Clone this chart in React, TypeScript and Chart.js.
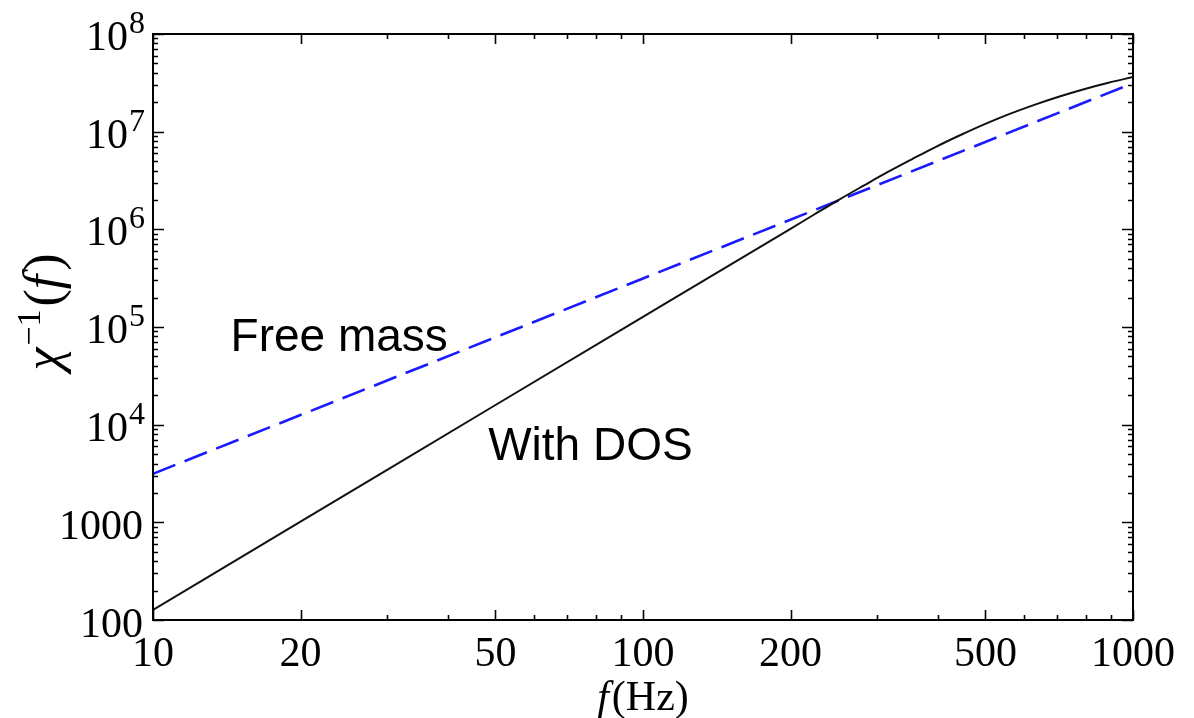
import React, { useEffect, useRef } from 'react';
import { Chart, registerables } from 'chart.js';

Chart.register(...registerables);

// ---- data ----
const frequencies = [10, 20, 50, 100, 150, 200, 224, 251, 282, 316, 355, 398, 447, 501, 562, 631, 708, 794, 891, 1000];
const withDosValues = [127, 1016, 15900, 127000, 428000, 1.012e6, 1.427e6, 2.006e6, 2.802e6, 3.868e6, 5.27e6, 7.08e6, 9.35e6, 1.209e7, 1.531e7, 1.894e7, 2.294e7, 2.723e7, 3.172e7, 3.63e7];
const freeMassFrequencies = [10, 100, 1000];
const freeMassValues = [3140, 314000, 31400000];

const xTickValues = [10, 20, 50, 100, 200, 500, 1000];
const xTickLabels = ['10', '20', '50', '100', '200', '500', '1000'];
const xMinorTickValues = [30, 40, 60, 70, 80, 90, 300, 400, 600, 700, 800, 900];

const yTickValues = [100, 1000, 1e4, 1e5, 1e6, 1e7, 1e8];
const yTickBases = ['100', '1000', '10', '10', '10', '10', '10'];
const yTickExponents = ['', '', '4', '5', '6', '7', '8'];
const yMinorMultipliers = [2, 3, 4, 5, 6, 7, 8, 9];

const annotationTexts = ['Free mass', 'With DOS'];
const annotationFreqs = [14.4, 48.3];
const annotationValues = [57000, 4340];

const SERIF = '"Liberation Serif", "Times New Roman", serif';
const SANS = '"Liberation Sans", Arial, sans-serif';

const framePlugin = {
  id: 'framePlugin',
  afterDraw(chart: any) {
    const { ctx, chartArea: a, scales } = chart;
    const x = scales.x;
    const y = scales.y;
    ctx.save();

    // ticks (inward, mirrored on all sides)
    ctx.strokeStyle = '#000';
    ctx.lineWidth = 1.6;
    ctx.beginPath();
    const vTick = (v: number, len: number) => {
      const px = Math.round(x.getPixelForValue(v)) + 0.5;
      ctx.moveTo(px, a.bottom);
      ctx.lineTo(px, a.bottom - len);
      ctx.moveTo(px, a.top);
      ctx.lineTo(px, a.top + len);
    };
    const hTick = (v: number, len: number) => {
      const py = Math.round(y.getPixelForValue(v)) + 0.5;
      ctx.moveTo(a.left, py);
      ctx.lineTo(a.left + len, py);
      ctx.moveTo(a.right, py);
      ctx.lineTo(a.right - len, py);
    };
    xTickValues.forEach((v) => vTick(v, 10));
    xMinorTickValues.forEach((v) => vTick(v, 5));
    yTickValues.forEach((v) => hTick(v, 11));
    yTickValues.forEach((d, i) => {
      if (i < yTickValues.length - 1) yMinorMultipliers.forEach((m) => hTick(d * m, 5));
    });
    ctx.stroke();

    // frame
    ctx.lineWidth = 2;
    ctx.strokeRect(a.left, a.top, a.right - a.left, a.bottom - a.top);

    // y tick labels with superscripts
    ctx.fillStyle = '#000';
    ctx.textBaseline = 'alphabetic';
    ctx.textAlign = 'right';
    yTickValues.forEach((v, i) => {
      const py = y.getPixelForValue(v);
      const exp = yTickExponents[i];
      if (exp) {
        ctx.font = `32px ${SERIF}`;
        const ew = ctx.measureText(exp).width;
        ctx.fillText(exp, a.left - 8, py - 1);
        ctx.font = `42px ${SERIF}`;
        ctx.fillText(yTickBases[i], a.left - 8 - ew - 1, py + 16);
      } else {
        ctx.font = `42px ${SERIF}`;
        ctx.fillText(yTickBases[i], a.left - 10, py + 17);
      }
    });

    // annotations
    ctx.textAlign = 'left';
    ctx.font = `46px ${SANS}`;
    annotationTexts.forEach((t, i) => {
      ctx.fillText(t, x.getPixelForValue(annotationFreqs[i]), y.getPixelForValue(annotationValues[i]));
    });

    // x axis title: f(Hz)
    ctx.font = `italic 42px ${SERIF}`;
    const fW = ctx.measureText('f').width;
    ctx.font = `42px ${SERIF}`;
    const restW = ctx.measureText('(Hz)').width;
    const cx = (a.left + a.right) / 2;
    const startX = cx - (fW + 3 + restW) / 2;
    ctx.font = `italic 42px ${SERIF}`;
    ctx.fillText('f', startX, 710);
    ctx.font = `42px ${SERIF}`;
    ctx.fillText('(Hz)', startX + fW + 3, 710);

    // y axis title: χ^{-1}(f)
    const parts = [
      { t: 'χ', font: `italic 52px ${SERIF}`, dy: 0, gap: 2 },
      { t: '−1', font: `34px ${SERIF}`, dy: -20, gap: 3 },
      { t: '(', font: `52px ${SERIF}`, dy: 0, gap: 0 },
      { t: 'f', font: `italic 52px ${SERIF}`, dy: 0, gap: 4 },
      { t: ')', font: `52px ${SERIF}`, dy: 0, gap: 0 },
    ];
    let total = 0;
    const widths = parts.map((p) => {
      ctx.font = p.font;
      const w = ctx.measureText(p.t).width;
      total += w + p.gap;
      return w;
    });
    ctx.translate(60, 312);
    ctx.rotate(-Math.PI / 2);
    let pos = -total / 2;
    parts.forEach((p, i) => {
      ctx.font = p.font;
      ctx.fillText(p.t, pos, p.dy);
      pos += widths[i] + p.gap;
    });

    ctx.restore();
  },
};

export default function App() {
  const canvasRef = useRef<HTMLCanvasElement | null>(null);

  useEffect(() => {
    const canvas = canvasRef.current;
    if (!canvas) return;
    const chart = new Chart(canvas, {
      type: 'line',
      data: {
        datasets: [
          {
            label: 'With DOS',
            data: frequencies.map((f, i) => ({ x: f, y: withDosValues[i] })),
            borderColor: '#111111',
            borderWidth: 2,
            pointRadius: 0,
            cubicInterpolationMode: 'monotone',
            fill: false,
          },
          {
            label: 'Free mass',
            data: freeMassFrequencies.map((f, i) => ({ x: f, y: freeMassValues[i] })),
            borderColor: '#1a1aff',
            borderWidth: 2.6,
            borderDash: [24, 10],
            pointRadius: 0,
            tension: 0,
            fill: false,
          },
        ],
      },
      options: {
        responsive: false,
        animation: false,
        devicePixelRatio: 1,
        layout: { padding: { left: 0, top: 34, right: 61, bottom: 0 } },
        plugins: {
          legend: { display: false },
          tooltip: { enabled: false },
          title: { display: false },
        },
        scales: {
          x: {
            type: 'logarithmic',
            min: 10,
            max: 1000,
            grid: { display: false, drawTicks: false },
            border: { display: false },
            afterBuildTicks: (scale: any) => {
              scale.ticks = xTickValues.map((v) => ({ value: v }));
            },
            afterFit: (scale: any) => {
              scale.height = 98;
            },
            ticks: {
              autoSkip: false,
              maxRotation: 0,
              minRotation: 0,
              padding: 10,
              color: '#000',
              font: { family: SERIF, size: 42 },
              callback: (value: any) => {
                const i = xTickValues.indexOf(Number(value));
                return i >= 0 ? xTickLabels[i] : '';
              },
            },
          },
          y: {
            type: 'logarithmic',
            min: 100,
            max: 1e8,
            grid: { display: false, drawTicks: false },
            border: { display: false },
            afterBuildTicks: (scale: any) => {
              scale.ticks = yTickValues.map((v) => ({ value: v }));
            },
            afterFit: (scale: any) => {
              scale.width = 153;
            },
            ticks: { display: false },
          },
        },
      } as any,
      plugins: [framePlugin],
    });
    return () => chart.destroy();
  }, []);

  return (
    <div style={{ position: 'absolute', left: 0, top: 0, width: 1194, height: 718, background: '#fff' }}>
      <canvas ref={canvasRef} width={1194} height={718} />
    </div>
  );
}
